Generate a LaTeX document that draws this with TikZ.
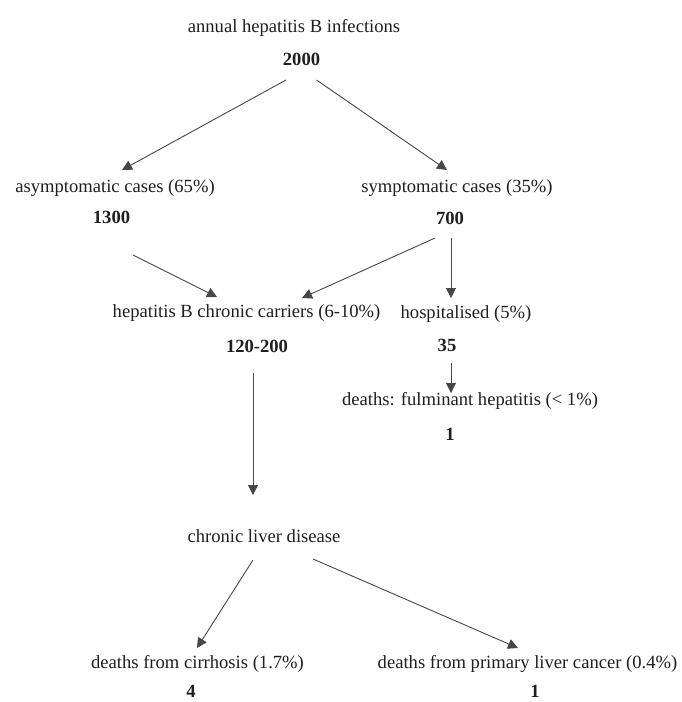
\documentclass[tikz,border=0pt]{standalone}
\usepackage{fontspec}
\setmainfont{Liberation Serif}
\usetikzlibrary{arrows.meta,calc}
\begin{document}
\begin{tikzpicture}[x=1pt,y=-1pt,
  lbl/.style={anchor=base,inner sep=0pt,text=black!88,font=\fontsize{18.6}{20}\selectfont},
  num/.style={lbl,font=\fontsize{18.6}{20}\selectfont\bfseries},
  arr/.style={draw=black!72,line width=0.9pt,-{Triangle[length=10pt,width=10pt]}}]
\useasboundingbox[fill=white] (0,0) rectangle (681,702);
% texts
\node[lbl] (t0) at (294,32) {annual hepatitis B infections};
\node[num] (v0) at (301.5,65) {2000};
\node[lbl] (asym) at (115,192) {asymptomatic cases (65\%)};
\node[num] (v1300) at (111.5,223) {1300};
\node[lbl] (sym) at (457,192) {symptomatic cases (35\%)};
\node[num] (v700) at (450,224) {700};
\node[lbl] (carr) at (246.5,317) {hepatitis B chronic carriers (6-10\%)};
\node[num] (v120) at (257,352) {120-200};
\node[lbl] (hosp) at (466,318) {hospitalised (5\%)};
\node[num] (v35) at (447,351) {35};
\node[lbl] (fulm) at (470,405) {deaths: fulminant hepatitis (< 1\%)};
\node[num] (v1a) at (450,440) {1};
\node[lbl] (cld) at (264,542) {chronic liver disease};
\node[lbl] (cirr) at (197.5,668) {deaths from cirrhosis (1.7\%)};
\node[num] (v4) at (191,697) {4};
\node[lbl] (canc) at (527.5,668) {deaths from primary liver cancer (0.4\%)};
\node[num] (v1b) at (535,697) {1};
% connectors
\draw[arr] ($(v0.base)+(-15.5,15)$) -- ($(asym.base)+(7,-22)$);
\draw[arr] ($(v0.base)+(15,15)$) -- ($(sym.base)+(-10,-22)$);
\draw[arr] ($(v1300.base)+(21.5,32)$) -- ($(carr.base)+(-29.5,-20)$);
\draw[arr] ($(v700.base)+(-15,14)$) -- ($(carr.base)+(55.5,-19)$);
\draw[arr] ($(v700.base)+(1,14)$) -- ($(hosp.base)+(-15,-20)$);
\draw[arr] ($(v35.base)+(4,12)$) -- ($(fulm.base)+(-19,-12)$);
\draw[arr] ($(v120.base)+(-4,21)$) -- ($(cld.base)+(-11,-47)$);
\draw[arr] ($(cld.base)+(-11,18)$) -- ($(cirr.base)+(-0.5,-20)$);
\draw[arr] ($(cld.base)+(49,17)$) -- ($(canc.base)+(-9.5,-20)$);
\end{tikzpicture}
\end{document}
